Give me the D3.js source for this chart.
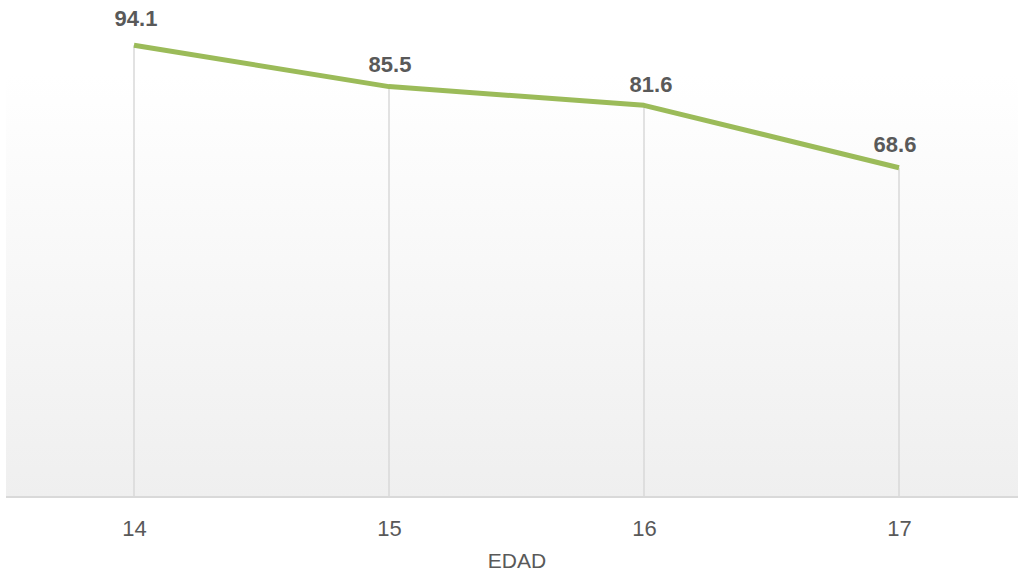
<!DOCTYPE html>
<html><head><meta charset="utf-8">
<script src="https://cdn.jsdelivr.net/npm/d3@7"></script>
<style>html,body{margin:0;padding:0;background:#fff;}svg{display:block;font-family:"Liberation Sans",Arial,sans-serif;}</style>
</head><body>
<svg id="c" width="1018" height="573"></svg>
<script>
const categories = ["14","15","16","17"];
const values = [94.1, 85.5, 81.6, 68.6];
const axisTitle = "EDAD";
// label nudges (style only)
const labelDx = [2, 1, 7, -4];
const labelDy = [19, 15, 13, 16];

(function(){
const svg = d3.select("#c");
const pLeft = 6.5, pRight = 1026.5, pTop = 17, pBottom = 497;
const x = d3.scalePoint().domain(categories).range([pLeft, pRight]).padding(0.5);
const y = d3.scaleLinear().domain([0, 100]).range([pBottom, pTop]);

const defs = svg.append("defs");
const g = defs.append("linearGradient").attr("id","bg").attr("x1",0).attr("y1",0).attr("x2",0).attr("y2",1);
g.append("stop").attr("offset","0%").attr("stop-color","#ffffff");
g.append("stop").attr("offset","12%").attr("stop-color","#ffffff");
g.append("stop").attr("offset","100%").attr("stop-color","#efefef");
svg.append("rect").attr("x",pLeft-0.5).attr("y",pTop).attr("width",pRight-pLeft+1).attr("height",pBottom-pTop).attr("fill","url(#bg)");

svg.append("g").selectAll("line").data(categories).join("line")
  .attr("x1",d=>x(d)).attr("x2",d=>x(d))
  .attr("y1",(d,i)=>y(values[i])).attr("y2",pBottom)
  .attr("stroke","#d9d9d9").attr("stroke-width",1.5);

const ax = svg.append("g").attr("transform",`translate(0,${pBottom})`)
  .call(d3.axisBottom(x).tickSize(0).tickPadding(23.4));
ax.select(".domain").attr("stroke","#d9d9d9").attr("stroke-width",2).attr("d",`M${pLeft-0.5},0H1018`);
ax.selectAll("text").attr("font-size",22).attr("fill","#595959").attr("font-family","Liberation Sans, Arial, sans-serif");

const line = d3.line().x((d,i)=>x(categories[i])).y(d=>y(d));
svg.append("path").datum(values).attr("d",line).attr("fill","none")
  .attr("stroke","#9bbb59").attr("stroke-width",5).attr("stroke-linejoin","round");

svg.append("g").selectAll("text").data(values).join("text")
  .attr("x",(d,i)=>x(categories[i])+labelDx[i]).attr("y",(d,i)=>y(d)-labelDy[i])
  .attr("text-anchor","middle").attr("font-size",22).attr("font-weight","bold")
  .attr("fill","#595959").text(d=>d.toFixed(1));

svg.append("text").attr("x",517).attr("y",568).attr("text-anchor","middle")
  .attr("font-size",21).attr("fill","#595959").text(axisTitle);
})();
</script>
</body></html>
